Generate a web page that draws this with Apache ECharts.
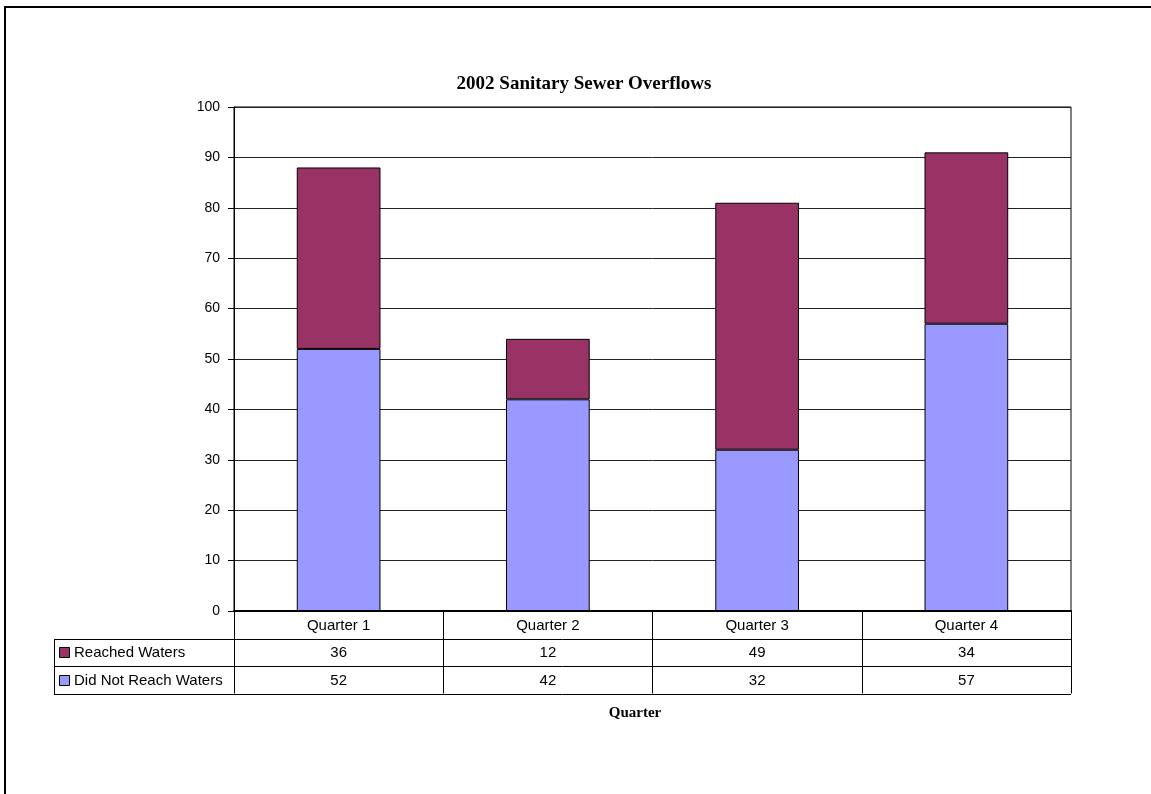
<!DOCTYPE html>
<html>
<head>
<meta charset="utf-8">
<script src="https://cdn.jsdelivr.net/npm/echarts@6/dist/echarts.min.js"></script>
<style>
html,body{margin:0;padding:0;background:#fff;}
#chart{width:1151px;height:794px;}
</style>
</head>
<body>
<div id="chart"></div>
<script>
var categories = ['Quarter 1', 'Quarter 2', 'Quarter 3', 'Quarter 4'];
var reachedWaters = [36, 12, 49, 34];
var didNotReach = [52, 42, 32, 57];
var seriesNames = ['Reached Waters', 'Did Not Reach Waters'];
var yTicks = [0, 10, 20, 30, 40, 50, 60, 70, 80, 90, 100];

var COL_REACHED = '#993366';
var COL_NOT = '#9999FF';
var GRID_L = 234, GRID_T = 107, GRID_W = 837, GRID_H = 504;
var ROW_H = 27.5;
var TABLE_LEFT = 54;

var chart = echarts.init(document.getElementById('chart'), null, {renderer: 'canvas'});

var option = {
  animation: false,
  backgroundColor: '#fff',
  title: {
    text: '2002 Sanitary Sewer Overflows',
    left: 579,
    top: 70,
    textAlign: 'center',
    textStyle: {fontFamily: 'Liberation Serif', fontWeight: 'bold', fontSize: 19, color: '#000'}
  },
  grid: {
    left: GRID_L, top: GRID_T, width: GRID_W, height: GRID_H,
    show: true, borderColor: '#000', borderWidth: 1, backgroundColor: 'transparent'
  },
  xAxis: {
    type: 'category',
    data: categories,
    boundaryGap: true,
    axisLine: {show: true, lineStyle: {color: '#000', width: 2}},
    axisTick: {show: true, length: ROW_H * 3, lineStyle: {color: '#000', width: 1}},
    axisLabel: {color: '#000', fontFamily: 'Liberation Sans', fontSize: 15, margin: 7}
  },
  yAxis: {
    type: 'value',
    min: yTicks[0], max: yTicks[yTicks.length - 1], interval: 10,
    axisLine: {show: true, lineStyle: {color: '#000', width: 1}},
    axisTick: {show: true, length: 6, lineStyle: {color: '#000'}},
    axisLabel: {color: '#000', fontFamily: 'Liberation Sans', fontSize: 14, margin: 14},
    splitLine: {show: true, lineStyle: {color: '#222', width: 1}}
  },
  series: [
    {
      name: seriesNames[1], type: 'bar', stack: 'total', data: didNotReach,
      barWidth: '40%',
      itemStyle: {color: COL_NOT, borderColor: '#000', borderWidth: 1}
    },
    {
      name: seriesNames[0], type: 'bar', stack: 'total', data: reachedWaters,
      barWidth: '40%',
      itemStyle: {color: COL_REACHED, borderColor: '#000', borderWidth: 1}
    }
  ]
};
chart.setOption(option);

function buildTable() {
  var els = [];
  var y0 = GRID_T + GRID_H;
  var right = GRID_L + GRID_W;
  els.push({type: 'rect', shape: {x: 5, y: 7, width: 1170, height: 820},
    style: {fill: null, stroke: '#000', lineWidth: 2}, silent: true});
  var rows = [reachedWaters, didNotReach];
  var colors = [COL_REACHED, COL_NOT];
  for (var r = 1; r <= 3; r++) {
    var yy = Math.round(y0 + ROW_H * r) + 0.5;
    els.push({type: 'line', shape: {x1: TABLE_LEFT, y1: yy, x2: right, y2: yy},
      style: {stroke: '#000', lineWidth: 1}, silent: true});
  }
  els.push({type: 'line', shape: {x1: TABLE_LEFT + 0.5, y1: Math.round(y0 + ROW_H), x2: TABLE_LEFT + 0.5, y2: Math.round(y0 + ROW_H * 3) + 1},
    style: {stroke: '#000', lineWidth: 1}, silent: true});
  for (var i = 0; i < rows.length; i++) {
    var cy = y0 + ROW_H * (i + 1) + ROW_H / 2;
    els.push({type: 'rect', shape: {x: 59.5, y: Math.round(cy - 5) + 0.5, width: 10, height: 10},
      style: {fill: colors[i], stroke: '#000', lineWidth: 1}, silent: true});
    els.push({type: 'text', x: 74, y: cy + 1,
      style: {text: seriesNames[i], fill: '#000', font: '15px "Liberation Sans"', textVerticalAlign: 'middle', verticalAlign: 'middle'}, silent: true});
    for (var c = 0; c < categories.length; c++) {
      var px = chart.convertToPixel({xAxisIndex: 0}, categories[c]);
      els.push({type: 'text', x: px, y: cy + 1,
        style: {text: String(rows[i][c]), fill: '#000', font: '15px "Liberation Sans"', align: 'center', textAlign: 'center', verticalAlign: 'middle', textVerticalAlign: 'middle'}, silent: true});
    }
  }
  els.push({type: 'text', x: 635, y: 713,
    style: {text: 'Quarter', fill: '#000', font: 'bold 15px "Liberation Serif"', align: 'center', textAlign: 'center', verticalAlign: 'middle', textVerticalAlign: 'middle'}, silent: true});
  chart.setOption({graphic: {elements: els}});
}
buildTable();
</script>
</body>
</html>
